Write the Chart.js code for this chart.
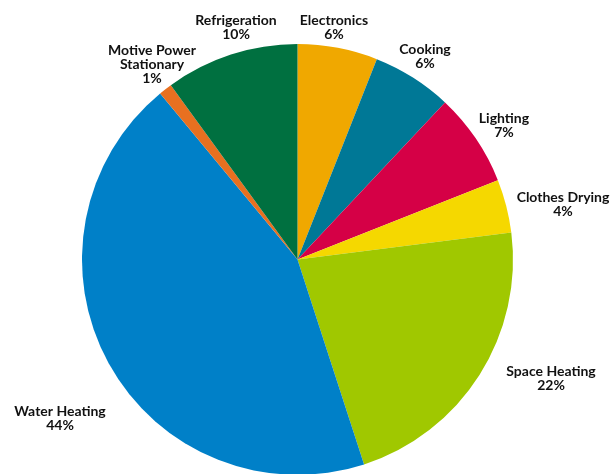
<!DOCTYPE html>
<html>
<head>
<meta charset="utf-8">
<script src="https://cdn.jsdelivr.net/npm/chart.js@4"></script>
<style>
html,body{margin:0;padding:0;background:#fff;overflow:hidden;}
#wrap{width:615px;height:476px;position:relative;}
</style>
</head>
<body>
<div id="wrap"><canvas id="c"></canvas></div>
<script>
const categories = ["Electronics","Cooking","Lighting","Clothes Drying","Space Heating","Water Heating","Motive Power\nStationary","Refrigeration"];
const values = [6,6,7,4,22,44,1,10];
const colors = ["#F0A800","#007896","#D50046","#F5D800","#A0C800","#0080C8","#E87020","#007040"];
// label anchor positions (layout only)
const labelPos = [[334,20],[425,49],[504,118],[563,197],[551,371],[60,411],[152,50],[236,20]];

const labelPlugin = {
  id:'labels',
  afterDraw(chart){
    const ctx = chart.ctx;
    ctx.save();
    ctx.fillStyle = '#111';
    ctx.font = 'bold 14px Lato, "Open Sans", sans-serif';
    ctx.textAlign = 'center';
    ctx.textBaseline = 'middle';
    categories.forEach((cat,i)=>{
      const lines = cat.split('\n').concat([values[i] + '%']);
      const [x,y] = labelPos[i];
      lines.forEach((ln,j)=> ctx.fillText(ln, x, y + j*14));
    });
    ctx.restore();
  }
};

new Chart(document.getElementById('c'), {
  type:'pie',
  data:{
    labels: categories,
    datasets:[{data: values, backgroundColor: colors, borderWidth:0}]
  },
  options:{
    responsive:true,
    maintainAspectRatio:false,
    animation:false,
    layout:{padding:{top:44,bottom:1,left:82,right:102}},
    plugins:{legend:{display:false},tooltip:{enabled:false}}
  },
  plugins:[labelPlugin]
});
</script>
</body>
</html>
